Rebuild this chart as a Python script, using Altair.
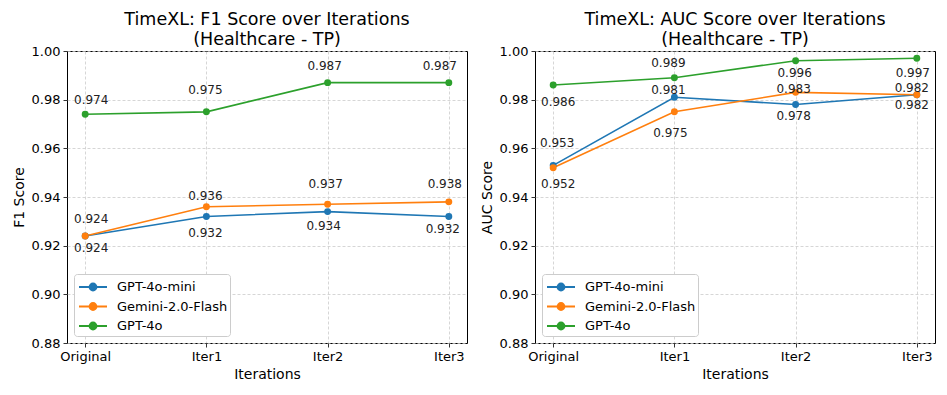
import altair as alt
import pandas as pd

iterations = ["Original", "Iter1", "Iter2", "Iter3"]
models = ["GPT-4o-mini", "Gemini-2.0-Flash", "GPT-4o"]
colors = ["#1f77b4", "#ff7f0e", "#2ca02c"]

f1_mini = [0.924, 0.932, 0.934, 0.932]
f1_gemini = [0.924, 0.936, 0.937, 0.938]
f1_gpt4o = [0.974, 0.975, 0.987, 0.987]

auc_mini = [0.953, 0.981, 0.978, 0.982]
auc_gemini = [0.952, 0.975, 0.983, 0.982]
auc_gpt4o = [0.986, 0.989, 0.996, 0.997]

# value-label nudges (dx, dy) in pixels relative to each point, as placed in the reference
f1_nudge_mini = [(6, 12), (-1, 17), (-4, 14), (-6, 13)]
f1_nudge_gemini = [(6, -17), (-1, -11), (-2, -20), (-4, -18)]
f1_nudge_gpt4o = [(6, -14), (-1, -22), (-3, -17), (-9, -17)]
auc_nudge_mini = [(4, -22), (-6, -7), (-2, 11), (-5, -7)]
auc_nudge_gemini = [(5, 16), (-4, 21), (-2, -3), (-5, 10)]
auc_nudge_gpt4o = [(5, 17), (-6, -15), (-1, 12), (-4, 15)]

y_ticks = [0.88, 0.90, 0.92, 0.94, 0.96, 0.98, 1.00]

FONT = "DejaVu Sans"
LEGEND_PATH = "M-1.4,0L1.4,0M-0.35,0A0.35,0.35 0 1,1 0.35,0A0.35,0.35 0 1,1 -0.35,0Z"


def make_df(vals_list, nudge_list):
    rows = []
    for m, vals, nudges in zip(models, vals_list, nudge_list):
        for it, v, (dx, dy) in zip(iterations, vals, nudges):
            rows.append(dict(Iteration=it, Model=m, Score=v, Label=f"{v:.3f}",
                             Nudge=f"{dx},{dy}"))
    return pd.DataFrame(rows)


def panel(df, title_lines, ytitle):
    x = alt.X("Iteration:N", sort=iterations,
              scale=alt.Scale(type="point", padding=0.15),
              axis=alt.Axis(title="Iterations", labelAngle=0, titlePadding=4))
    y = alt.Y("Score:Q", scale=alt.Scale(domain=[0.88, 1.0], nice=False, zero=False),
              axis=alt.Axis(title=ytitle, values=y_ticks, format=".2f"))
    color = alt.Color("Model:N", sort=models,
                      scale=alt.Scale(domain=models, range=colors),
                      legend=alt.Legend(title=None))
    base = alt.Chart(df).encode(x=x, y=y)
    lines = base.mark_line(strokeWidth=1.6, point=alt.OverlayMarkDef(filled=True, size=48, opacity=1)).encode(color=color)
    layers = [lines]
    for nudge in sorted(df["Nudge"].unique()):
        dx, dy = (int(s) for s in nudge.split(","))
        layers.append(
            base.transform_filter(alt.datum.Nudge == nudge).mark_text(
                dx=dx, dy=dy, baseline="middle", fontSize=12, font=FONT, color="#222222"
            ).encode(text="Label:N"))
    return alt.layer(*layers).properties(
        width=400, height=292,
        title=alt.Title(title_lines, anchor="middle"))


df_f1 = make_df([f1_mini, f1_gemini, f1_gpt4o], [f1_nudge_mini, f1_nudge_gemini, f1_nudge_gpt4o])
df_auc = make_df([auc_mini, auc_gemini, auc_gpt4o], [auc_nudge_mini, auc_nudge_gemini, auc_nudge_gpt4o])

left = panel(df_f1, ["TimeXL: F1 Score over Iterations", "(Healthcare - TP)"], "F1 Score")
right = panel(df_auc, ["TimeXL: AUC Score over Iterations", "(Healthcare - TP)"], "AUC Score")

chart = alt.hconcat(left, right, spacing=11).resolve_legend(color="independent").properties(
    padding={"left": 3, "top": 2, "right": 2, "bottom": 2}
).configure_view(
    stroke="black", strokeWidth=1
).configure_axis(
    grid=True, gridDash=[3, 2], gridColor="#cccccc", gridWidth=0.8,
    domain=False, tickColor="black", tickSize=4, tickWidth=0.8,
    labelFont=FONT, labelFontSize=13, labelColor="black", labelPadding=3,
    titleFont=FONT, titleFontSize=14, titleFontWeight="normal", titleColor="black",
    titlePadding=5
).configure_title(
    font=FONT, fontSize=17.5, fontWeight="normal", color="black", offset=-3, lineHeight=19.5
).configure_legend(
    orient="bottom-left", offset=7, strokeColor="#cccccc", fillColor="white",
    cornerRadius=3, padding=2, labelFont=FONT, labelFontSize=13, labelColor="black",
    symbolType=LEGEND_PATH, symbolSize=400, symbolStrokeWidth=1.8,
    symbolOffset=6, labelOffset=13, rowPadding=0.5
)

chart.save("out.html", embed_options={"renderer": "svg", "actions": False})
